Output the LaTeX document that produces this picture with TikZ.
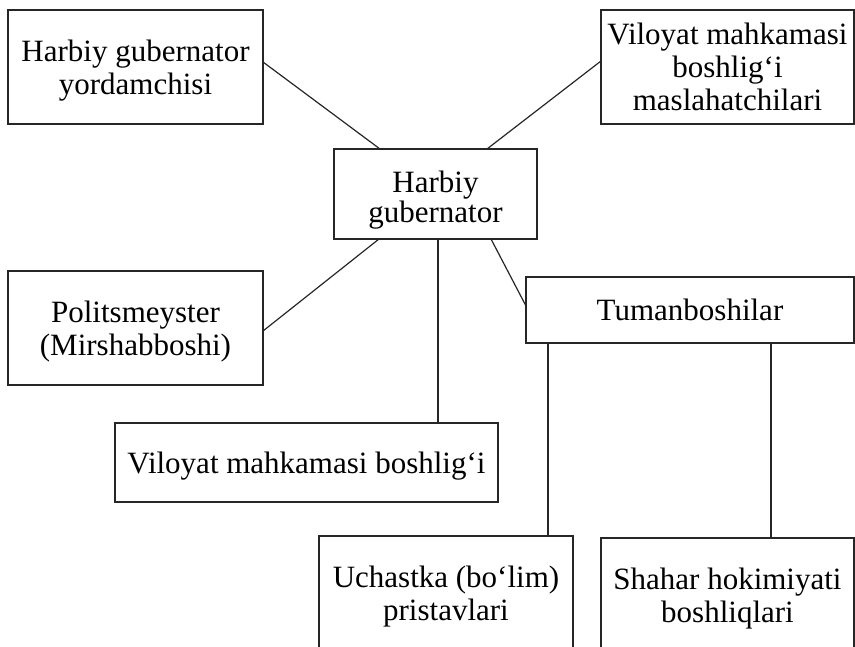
\documentclass[tikz,border=0pt]{standalone}
\usepackage{fontspec}
\setmainfont{Liberation Serif}
\begin{document}
\begin{tikzpicture}[x=1pt,y=-1pt,
  lbl/.style={inner sep=0pt, outer sep=0pt, align=center, text=black, text depth=0pt, font=\fontsize{31}{33}\selectfont},
  box/.style={lbl, draw=black!85, line width=1.2pt},
  conn/.style={draw=black!85, line width=1.2pt}]
\useasboundingbox (0,0) rectangle (855,647);
% boxes
\node[box, minimum width=255pt, minimum height=114pt] (b1) at (135.5,67) {Harbiy gubernator\\yordamchisi};
\node[box, minimum width=253pt, minimum height=114pt] (b2) at (727.5,67) {Viloyat mahkamasi\\boshlig‘i\\maslahatchilari};
\node[box, minimum width=203pt, minimum height=90pt, font=\fontsize{31}{30}\selectfont, text height=58pt] (hg) at (435.5,194) {Harbiy\\gubernator};
\node[box, minimum width=255pt, minimum height=114pt] (pol) at (135.5,328) {Politsmeyster\\(Mirshabboshi)};
\node[box, minimum width=383pt, minimum height=79pt] (vmb) at (306.5,462.5) {Viloyat mahkamasi boshlig‘i};
\node[box, minimum width=328pt, minimum height=66pt] (tum) at (690,310) {Tumanboshilar};
% open-bottom boxes (cut by the page edge)
\node[lbl, minimum width=254pt, minimum height=114pt] (uch) at (446,593) {Uchastka (bo‘lim)\\pristavlari};
\node[lbl, minimum width=253pt, minimum height=114pt] (sha) at (727.5,595) {Shahar hokimiyati\\boshliqlari};
\draw[conn] (uch.south west) -- (uch.north west) -- (uch.north east) -- (uch.south east);
\draw[conn] (sha.south west) -- (sha.north west) -- (sha.north east) -- (sha.south east);
% connectors
\draw[conn] ([yshift=5pt]b1.east) -- ([xshift=-55.5pt]hg.north);
\draw[conn] ([xshift=51.5pt]hg.north) -- ([yshift=6pt]b2.west);
\draw[conn] ([yshift=-3pt]pol.east) -- ([xshift=-56.5pt]hg.south);
\draw[conn] ([xshift=2.5pt]hg.south) -- ([xshift=2.5pt]hg.south |- vmb.north);
\draw[conn] ([xshift=55.5pt]hg.south) -- ([yshift=4pt]tum.west);
\draw[conn] ([xshift=-142pt]tum.south) -- ([xshift=-142pt]tum.south |- uch.north);
\draw[conn] ([xshift=81pt]tum.south) -- ([xshift=81pt]tum.south |- sha.north);
\end{tikzpicture}
\end{document}
